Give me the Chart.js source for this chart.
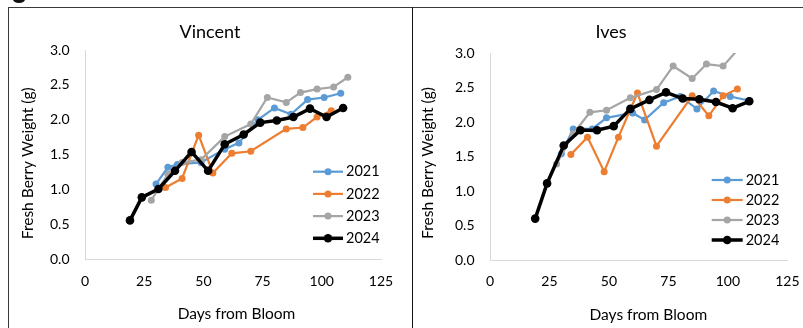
<!DOCTYPE html>
<html><head><meta charset="utf-8">
<script src="https://cdn.jsdelivr.net/npm/chart.js@4.4.1/dist/chart.umd.min.js"></script>
<style>
html,body{margin:0;padding:0;background:#fff;width:803px;height:328px;overflow:hidden;position:relative}
#frame{position:absolute;left:8px;top:7px;width:900px;height:400px;border-top:1px solid #3a3a3a;border-left:1px solid #3a3a3a}
#divider{position:absolute;left:412px;top:7px;width:1px;height:330px;background:#111}
#blob{position:absolute;left:13px;top:-4px;width:12px;height:7px;border-radius:50%;background:#111}
#c1{position:absolute;left:9px;top:8px}
#c2{position:absolute;left:413px;top:8px}
</style></head><body>
<div id="frame"></div><div id="divider"></div><div id="blob"></div>
<canvas id="c1" width="403" height="320"></canvas>
<canvas id="c2" width="400" height="320"></canvas>
<script>
// ---- data ----
const seriesLabels = ["2021", "2022", "2023", "2024"];
const xTicks = [0, 25, 50, 75, 100, 125];
const yTicks = [0, 0.5, 1.0, 1.5, 2.0, 2.5, 3.0];

// Vincent
const vin2021Days = [30, 35, 39, 49, 59, 65, 73, 80, 87, 94, 101, 108];
const vin2021 = [1.08, 1.32, 1.36, 1.39, 1.58, 1.67, 2.00, 2.17, 2.08, 2.29, 2.32, 2.38];
const vin2022Days = [34, 41, 48, 54, 62, 70, 85, 92, 98, 104];
const vin2022 = [1.03, 1.16, 1.78, 1.24, 1.52, 1.55, 1.87, 1.89, 2.04, 2.13];
const vin2023Days = [28, 35, 41, 49, 59, 70, 77, 85, 91, 98, 105, 111];
const vin2023 = [0.85, 1.22, 1.39, 1.43, 1.76, 1.94, 2.32, 2.25, 2.39, 2.44, 2.47, 2.61];
const vin2024Days = [19, 24, 31, 38, 45, 52, 59, 67, 74, 81, 88, 95, 102, 109];
const vin2024 = [0.56, 0.89, 1.01, 1.27, 1.54, 1.27, 1.65, 1.79, 1.96, 1.99, 2.04, 2.16, 2.04, 2.17];

// Ives
const ives2021Days = [30, 35, 43, 49, 60, 65, 73, 80, 87, 94, 101, 109];
const ives2021 = [1.54, 1.90, 1.90, 2.06, 2.13, 2.03, 2.28, 2.37, 2.19, 2.45, 2.37, 2.31];
const ives2022Days = [34, 41, 48, 54, 62, 70, 85, 92, 98, 104];
const ives2022 = [1.53, 1.78, 1.28, 1.78, 2.42, 1.65, 2.38, 2.09, 2.38, 2.48];
const ives2023Days = [28, 35, 42, 49, 59, 70, 77, 85, 91, 98, 105];
const ives2023 = [1.39, 1.83, 2.14, 2.17, 2.35, 2.47, 2.81, 2.63, 2.84, 2.81, 3.08];
const ives2024Days = [19, 24, 31, 38, 45, 52, 59, 67, 74, 81, 88, 95, 102, 109];
const ives2024 = [0.60, 1.11, 1.66, 1.88, 1.88, 1.94, 2.19, 2.32, 2.43, 2.34, 2.33, 2.29, 2.20, 2.30];

const colors = ["#5b9bd5", "#ed7d31", "#a5a5a5", "#000000"];

Chart.defaults.font.family = "Lato, 'Open Sans', sans-serif";
Chart.defaults.font.size = 14;
Chart.defaults.color = "#000";

function pts(days, vals) { return days.map((d, i) => ({x: d, y: vals[i]})); }

function makeDatasets(sets) {
  return sets.map((s, i) => ({
    label: seriesLabels[i],
    data: pts(s[0], s[1]),
    borderColor: colors[i],
    backgroundColor: colors[i],
    pointBackgroundColor: colors[i],
    pointBorderColor: colors[i],
    pointBorderWidth: 0,
    borderWidth: i === 3 ? 3.5 : 2.2,
    pointRadius: i === 3 ? 4.3 : 3.5,
    pointHoverRadius: 4,
    tension: 0,
    order: 4 - i,
    clip: 0
  }));
}

const panelText = {
  id: 'panelText',
  afterDraw(chart, args, o) {
    const ctx = chart.ctx;
    ctx.save();
    ctx.fillStyle = '#000';
    ctx.textAlign = 'center';
    ctx.textBaseline = 'middle';
    ctx.font = "18px Lato, 'Open Sans', sans-serif";
    ctx.fillText(o.title, o.tx, o.ty);
    ctx.font = "15.5px Lato, 'Open Sans', sans-serif";
    ctx.fillText(o.xTitle, o.xx, o.xy);
    ctx.translate(o.yx, o.yy);
    ctx.rotate(-Math.PI / 2);
    ctx.fillText(o.yTitle, 0, 0);
    ctx.restore();
  }
};

const lineLegend = {
  id: 'lineLegend',
  afterDatasetsDraw(chart, args, o) {
    const ctx = chart.ctx;
    chart.data.datasets.forEach((ds, i) => {
      const y = o.y + i * o.gap;
      ctx.save();
      ctx.strokeStyle = ds.borderColor;
      ctx.lineWidth = ds.borderWidth;
      ctx.beginPath(); ctx.moveTo(o.x, y); ctx.lineTo(o.x + o.len, y); ctx.stroke();
      ctx.fillStyle = ds.pointBackgroundColor;
      ctx.beginPath(); ctx.arc(o.x + o.len / 2, y, ds.pointRadius, 0, 2 * Math.PI); ctx.fill();
      ctx.fillStyle = '#000';
      ctx.font = "14.5px Lato, 'Open Sans', sans-serif";
      ctx.textAlign = 'left'; ctx.textBaseline = 'middle';
      ctx.fillText(ds.label, o.x + o.len + o.textGap, y);
      ctx.restore();
    });
  }
};

function makeChart(id, sets, cfg) {
  return new Chart(document.getElementById(id), {
    type: 'line',
    data: { datasets: makeDatasets(sets) },
    plugins: [panelText, lineLegend],
    options: {
      responsive: false,
      animation: false,
      devicePixelRatio: 1,
      layout: { padding: cfg.padding },
      plugins: {
        legend: { display: false },
        title: { display: false },
        tooltip: { enabled: false },
        panelText: cfg.text,
        lineLegend: cfg.legend
      },
      scales: {
        x: {
          type: 'linear', min: xTicks[0], max: xTicks[xTicks.length - 1],
          grid: { display: false, drawTicks: false },
          border: { display: true, color: '#d9d9d9', width: 1 },
          ticks: { stepSize: 25, padding: 13.5, maxRotation: 0, autoSkip: false },
          afterBuildTicks(s) { s.ticks = xTicks.map(v => ({value: v})); },
          afterFit(s) { s.height = cfg.xh; }
        },
        y: {
          type: 'linear', min: yTicks[0], max: yTicks[yTicks.length - 1],
          grid: { display: false, drawTicks: false },
          border: { display: true, color: '#d9d9d9', width: 1 },
          ticks: { stepSize: 0.5, padding: 15.5, callback: v => Number(v).toFixed(1) },
          afterBuildTicks(s) { s.ticks = yTicks.map(v => ({value: v})); },
          afterFit(s) { s.width = cfg.yw; }
        }
      }
    }
  });
}

makeChart('c1', [[vin2021Days, vin2021], [vin2022Days, vin2022], [vin2023Days, vin2023], [vin2024Days, vin2024]], {
  padding: { top: 42, right: 31, bottom: 0, left: 0 },
  xh: 68.5, yw: 76,
  text: { title: 'Vincent', tx: 201, ty: 24, xTitle: 'Days from Bloom', xx: 227.5, xy: 305.7,
          yTitle: 'Fresh Berry Weight (g)', yx: 18.8, yy: 155.3 },
  legend: { x: 304, y: 163.7, gap: 22.2, len: 30, textGap: 3 }
});

makeChart('c2', [[ives2021Days, ives2021], [ives2022Days, ives2022], [ives2023Days, ives2023], [ives2024Days, ives2024]], {
  padding: { top: 45, right: 21, bottom: 0, left: 0 },
  xh: 68, yw: 77,
  text: { title: 'Ives', tx: 198, ty: 24, xTitle: 'Days from Bloom', xx: 235.3, xy: 307,
          yTitle: 'Fresh Berry Weight (g)', yx: 15.3, yy: 155 },
  legend: { x: 298.7, y: 172, gap: 20, len: 31, textGap: 3 }
});
</script>
</body></html>
